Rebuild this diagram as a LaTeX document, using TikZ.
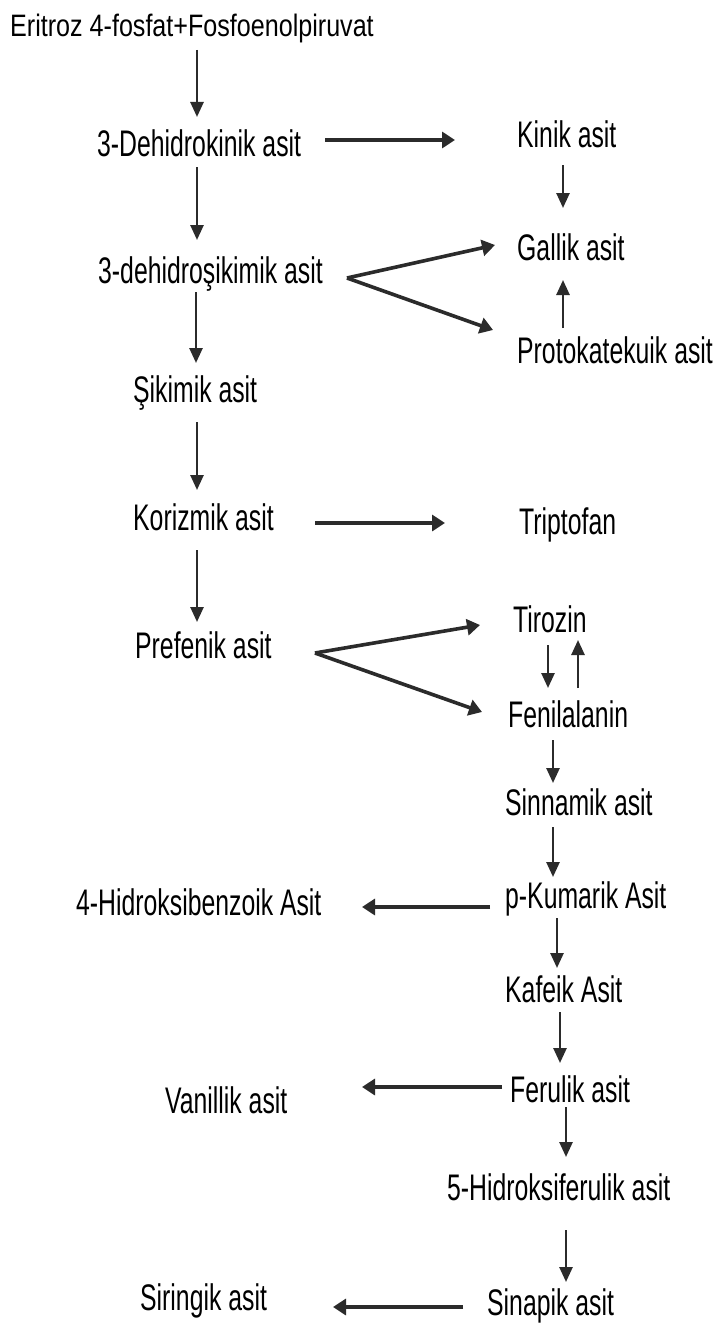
\documentclass[tikz,border=0pt]{standalone}
\usepackage{fontspec}
\usetikzlibrary{arrows.meta}
\newfontfamily\lblfont[FakeStretch=0.67]{Liberation Sans}
\newfontfamily\topfont[FakeStretch=0.81]{Liberation Sans}
\definecolor{ink}{HTML}{2B2B2B}
\tikzset{
  lbl/.style={anchor=base west, inner sep=0pt, text=black, font=\lblfont\fontsize{37}{40}\selectfont},
  toplbl/.style={anchor=base west, inner sep=0pt, text=black, font=\topfont\fontsize{31}{34}\selectfont},
  varr/.style={draw=ink, line width=2.6pt, -{Triangle[length=15pt,width=13pt]}},
  harr/.style={draw=ink, line width=3.6pt, -{Triangle[length=13pt,width=16pt]}}
}
\begin{document}
\begin{tikzpicture}[x=1pt,y=-1pt]
\useasboundingbox[fill=white] (0,0) rectangle (715,1327);
% nodes
\node[toplbl] (eritroz) at (10,37) {Eritroz 4-fosfat+Fosfoenolpiruvat};
\node[lbl] (dehk) at (97,156) {3-Dehidrokinik asit};
\node[lbl] (kinik) at (517,147) {Kinik asit};
\node[lbl] (gallik) at (517,260) {Gallik asit};
\node[lbl] (dehs) at (98,283) {3-dehidroşikimik asit};
\node[lbl] (proto) at (517,363) {Protokatekuik asit};
\node[lbl] (sik) at (133,402) {Şikimik asit};
\node[lbl] (kor) at (133,530) {Korizmik asit};
\node[lbl] (trip) at (519,534) {Triptofan};
\node[lbl] (pre) at (135,658) {Prefenik asit};
\node[lbl] (tir) at (513,632) {Tirozin};
\node[lbl] (fen) at (508,727) {Fenilalanin};
\node[lbl] (sinn) at (505,815) {Sinnamik asit};
\node[lbl] (pkum) at (505,908) {p-Kumarik Asit};
\node[lbl] (hb) at (76,915) {4-Hidroksibenzoik Asit};
\node[lbl] (kaf) at (505,1002) {Kafeik Asit};
\node[lbl] (fer) at (510,1102) {Ferulik asit};
\node[lbl] (van) at (165,1113) {Vanillik asit};
\node[lbl] (hf) at (447,1200) {5-Hidroksiferulik asit};
\node[lbl] (sinap) at (487,1315) {Sinapik asit};
\node[lbl] (sir) at (140,1310) {Siringik asit};
% left column vertical arrows
\draw[varr] ([shift={(187pt,-13pt)}]eritroz.base west) -- ([shift={(100pt,39pt)}]dehk.base west);
\draw[varr] ([shift={(100pt,-11pt)}]dehk.base west) -- ([shift={(99pt,43pt)}]dehs.base west);
\draw[varr] ([shift={(98pt,-9pt)}]dehs.base west) -- ([shift={(63pt,39pt)}]sik.base west);
\draw[varr] ([shift={(64pt,-20pt)}]sik.base west) -- ([shift={(64pt,40pt)}]kor.base west);
\draw[varr] ([shift={(64pt,-20pt)}]kor.base west) -- ([shift={(62pt,36pt)}]pre.base west);
% right column vertical arrows
\draw[varr] ([shift={(46pt,-18pt)}]kinik.base west) -- ([shift={(46pt,52pt)}]gallik.base west);
\draw[varr] ([shift={(46pt,35pt)}]proto.base west) -- ([shift={(46pt,-20pt)}]gallik.base west);
\draw[varr] ([shift={(35pt,-13pt)}]tir.base west) -- ([shift={(40pt,39pt)}]fen.base west);
\draw[varr] ([shift={(70pt,39pt)}]fen.base west) -- ([shift={(65pt,-8pt)}]tir.base west);
\draw[varr] ([shift={(45pt,-13pt)}]fen.base west) -- ([shift={(48pt,32pt)}]sinn.base west);
\draw[varr] ([shift={(48pt,-12pt)}]sinn.base west) -- ([shift={(48pt,31pt)}]pkum.base west);
\draw[varr] ([shift={(52pt,-10pt)}]pkum.base west) -- ([shift={(52pt,34pt)}]kaf.base west);
\draw[varr] ([shift={(55pt,-10pt)}]kaf.base west) -- ([shift={(50pt,39pt)}]fer.base west);
\draw[varr] ([shift={(56pt,-5pt)}]fer.base west) -- ([shift={(119pt,43pt)}]hf.base west);
\draw[varr] ([shift={(119pt,-30pt)}]hf.base west) -- ([shift={(79pt,33pt)}]sinap.base west);
% horizontal arrows
\draw[harr] ([shift={(228pt,16pt)}]dehk.base west) -- ([shift={(-62pt,7pt)}]kinik.base west);
\draw[harr] ([shift={(249pt,5pt)}]dehs.base west) -- ([shift={(-22pt,15pt)}]gallik.base west);
\draw[harr] ([shift={(249pt,5pt)}]dehs.base west) -- ([shift={(-24pt,33pt)}]proto.base west);
\draw[harr] ([shift={(182pt,7pt)}]kor.base west) -- ([shift={(-74pt,11pt)}]trip.base west);
\draw[harr] ([shift={(180pt,5pt)}]pre.base west) -- ([shift={(-33pt,7pt)}]tir.base west);
\draw[harr] ([shift={(180pt,5pt)}]pre.base west) -- ([shift={(-26pt,15pt)}]fen.base west);
\draw[harr] ([shift={(-15pt,1pt)}]pkum.base west) -- ([shift={(286pt,8pt)}]hb.base west);
\draw[harr] ([shift={(-8pt,15pt)}]fer.base west) -- ([shift={(197pt,26pt)}]van.base west);
\draw[harr] ([shift={(-24pt,8pt)}]sinap.base west) -- ([shift={(193pt,3pt)}]sir.base west);
\end{tikzpicture}
\end{document}
